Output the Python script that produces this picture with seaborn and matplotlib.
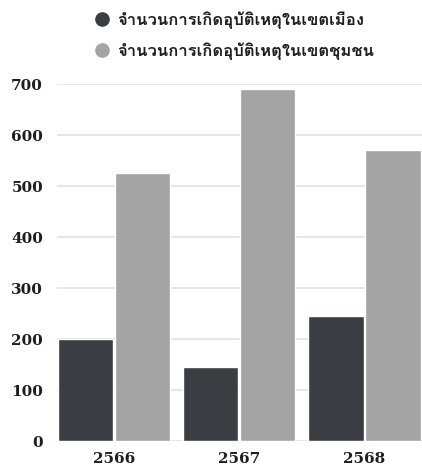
import matplotlib
matplotlib.use("Agg")
import matplotlib.pyplot as plt
from matplotlib import font_manager
from matplotlib.lines import Line2D
from matplotlib.ft2font import FT2Font
import seaborn as sns
import pandas as pd

years = ["2566", "2567", "2568"]
series = ["จำนวนการเกิดอุบัติเหตุในเขตเมือง", "จำนวนการเกิดอุบัติเหตุในเขตชุมชน"]
urban = [200, 145, 245]
community = [525, 690, 570]
yticks = [0, 100, 200, 300, 400, 500, 600, 700]
colors = ["#3a3e43", "#a4a4a4"]

# find a font with Thai glyphs
cands = []
for f in font_manager.fontManager.ttflist:
    try:
        ft = FT2Font(f.fname)
        if 0x0E08 in ft.get_charmap():
            cands.append(f)
    except Exception:
        pass
bold = [f for f in cands if isinstance(f.weight, int) and f.weight >= 600 or f.weight in ("bold", "heavy", "black")]
pick = bold[0] if bold else (cands[0] if cands else None)
thai_family = [pick.name, "DejaVu Sans"] if pick else ["DejaVu Sans"]

sns.set_theme(style="white")
plt.rcParams["font.family"] = ["DejaVu Serif"]

df = pd.DataFrame({
    "year": years * 2,
    "series": [series[0]] * 3 + [series[1]] * 3,
    "value": urban + community,
})

fig = plt.figure(figsize=(4.22, 4.65), dpi=100)
ax = fig.add_axes([0.135, 0.0516, 0.865, 0.7677])
sns.barplot(data=df, x="year", y="value", hue="series", palette=colors,
            width=0.91, gap=0.03, ax=ax, legend=False, saturation=1)
ax.set_ylim(0, 700)
ax.set_xlim(-0.455, 2.46)
ax.set_yticks(yticks)
ax.set_yticklabels([str(t) for t in yticks])
ax.set_xlabel("")
ax.set_ylabel("")
ax.yaxis.grid(True, color="#e2e2e2", linewidth=1.2)
ax.set_axisbelow(True)
for s in ax.spines.values():
    s.set_visible(False)
ax.tick_params(axis="y", length=0, pad=10, labelsize=11, labelcolor="#1e1e1e")
ax.tick_params(axis="x", length=0, pad=8, labelsize=11, labelcolor="#1e1e1e")
for lab in ax.get_xticklabels() + ax.get_yticklabels():
    lab.set_fontweight("bold")

handles = [Line2D([], [], marker="o", linestyle="", markersize=9.5, color=c) for c in colors]
leg = fig.legend(handles, series, loc="upper center", bbox_to_anchor=(0.553, 1.005),
                 frameon=False, ncol=1, labelspacing=0.85, handletextpad=0.3,
                 handlelength=1.2, borderpad=0.3,
                 prop={"family": thai_family, "size": 12, "weight": "bold"})
for t in leg.get_texts():
    t.set_color("#1e1e1e")

fig.savefig("out.png", dpi=100)
